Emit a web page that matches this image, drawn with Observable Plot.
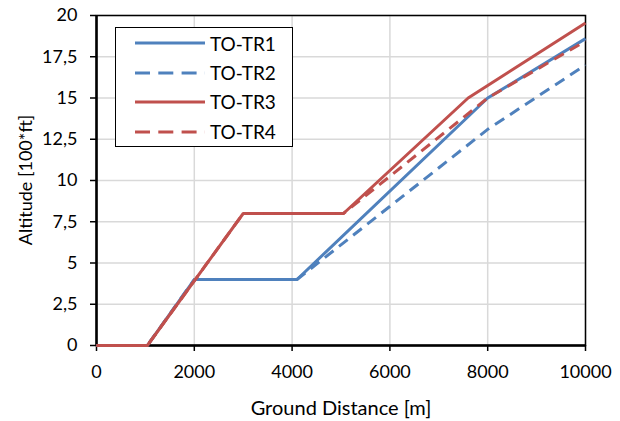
<!DOCTYPE html>
<html>
<head>
<meta charset="utf-8">
<script src="https://cdn.jsdelivr.net/npm/d3@7"></script>
<script src="https://cdn.jsdelivr.net/npm/@observablehq/plot@0.6"></script>
<style>
  html, body { margin: 0; padding: 0; background: #fff; }
  #wrap { position: relative; width: 620px; height: 421px; font-family: Lato, "Open Sans", sans-serif; }
  #legend { position: absolute; left: 115px; top: 27px; width: 178px; height: 120px; border: 1px solid #000; background: #fff; box-sizing: border-box; }
  .row { position: absolute; left: 0; height: 30px; display: flex; align-items: center; }
  .row span { font-size: 19px; color: #000; margin-left: 0px; }
</style>
</head>
<body>
<div id="wrap"></div>
<script>
// ---- data ----
const seriesNames = ["TO-TR1", "TO-TR2", "TO-TR3", "TO-TR4"];
const seriesColors = ["#4F81BD", "#4F81BD", "#C0504D", "#C0504D"];
const seriesDashed = [false, true, false, true];

const tr1Distance = [0, 1040, 2000, 4100, 8000, 10000];
const tr1Altitude = [0, 0, 4, 4, 15, 18.6];
const tr2Distance = [0, 1040, 2000, 4100, 8000, 10000];
const tr2Altitude = [0, 0, 4, 4, 13.1, 17.0];
const tr3Distance = [0, 1040, 3000, 5050, 7600, 10000];
const tr3Altitude = [0, 0, 8, 8, 15, 19.55];
const tr4Distance = [0, 1040, 3000, 5050, 8000, 10000];
const tr4Altitude = [0, 0, 8, 8, 15, 18.45];

const xTicks = [0, 2000, 4000, 6000, 8000, 10000];
const yTicks = [0, 2.5, 5, 7.5, 10, 12.5, 15, 17.5, 20];

const xTitle = "Ground Distance [m]";
const yTitle = "Altitude [100*ft]";

// ---- build table ----
const allDist = [tr1Distance, tr2Distance, tr3Distance, tr4Distance];
const allAlt = [tr1Altitude, tr2Altitude, tr3Altitude, tr4Altitude];
const rows = [];
seriesNames.forEach((name, i) => {
  allDist[i].forEach((d, j) => rows.push({series: name, idx: i, x: d, y: allAlt[i][j]}));
});

const fmt = d => String(d).replace(".", ",");
const W = 620, H = 421;
const margins = {left: 96, right: 35, top: 15, bottom: 76};

const lineMarks = seriesNames.map((name, i) =>
  Plot.line(rows.filter(r => r.idx === i), {
    x: "x", y: "y",
    stroke: seriesColors[i],
    strokeWidth: 3,
    strokeDasharray: seriesDashed[i] ? "11,7" : null,
    strokeLinejoin: "round",
    strokeLinecap: "butt"
  })
);

const chart = Plot.plot({
  width: W, height: H,
  marginLeft: margins.left, marginRight: margins.right,
  marginTop: margins.top, marginBottom: margins.bottom,
  style: {fontFamily: "Lato, 'Open Sans', sans-serif", fontSize: "18px", color: "#000", background: "#fff"},
  x: {domain: [0, 10000]},
  y: {domain: [0, 20]},
  marks: [
    Plot.gridX(xTicks, {stroke: "#d9d9d9", strokeOpacity: 1, strokeWidth: 1.5}),
    Plot.gridY(yTicks, {stroke: "#d9d9d9", strokeOpacity: 1, strokeWidth: 1.5}),
    Plot.frame({stroke: "#000", strokeWidth: 1.5}),
    Plot.axisX(xTicks, {tickSize: 6, tickPadding: 14, fontSize: 18, label: null, tickFormat: d => String(d), strokeWidth: 1.5}),
    Plot.axisY(yTicks, {tickSize: 6, tickPadding: 13, fontSize: 18, label: null, tickFormat: fmt, strokeWidth: 1.5}),
    Plot.ruleY([0], {stroke: "#000", strokeWidth: 2.5}),
    Plot.ruleX([0], {stroke: "#000", strokeWidth: 2.5}),
    ...lineMarks
  ]
});

const wrap = document.getElementById("wrap");
wrap.appendChild(chart);

// axis titles
const svg = d3.select(chart);
svg.append("text")
  .attr("x", 341)
  .attr("y", 415)
  .attr("text-anchor", "middle")
  .attr("font-size", 20)
  .attr("fill", "#000")
  .text(xTitle);
svg.append("text")
  .attr("transform", `translate(32, ${margins.top + (H - margins.top - margins.bottom) / 2}) rotate(-90)`)
  .attr("text-anchor", "middle")
  .attr("font-size", 18)
  .attr("fill", "#000")
  .text(yTitle);

// legend
const legend = document.createElement("div");
legend.id = "legend";
const rowTops = [0, 29.5, 58.5, 88.5];
seriesNames.forEach((name, i) => {
  const row = document.createElement("div");
  row.className = "row";
  row.style.top = (rowTops[i]) + "px";
  row.innerHTML = `<svg width="94" height="30"><line x1="19" x2="89" y1="15" y2="15" stroke="${seriesColors[i]}" stroke-width="3" ${seriesDashed[i] ? 'stroke-dasharray="15,8.3"' : ''}/></svg><span>${name}</span>`;
  legend.appendChild(row);
});
wrap.appendChild(legend);
</script>
</body>
</html>
